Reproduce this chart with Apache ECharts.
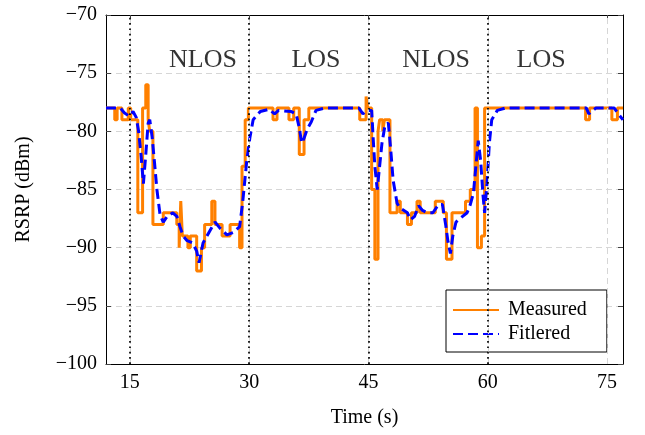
<!DOCTYPE html>
<html><head><meta charset="utf-8">
<script src="https://cdn.jsdelivr.net/npm/echarts@6/dist/echarts.min.js"></script>
<style>html,body{margin:0;padding:0;background:#fff}#c{width:645px;height:435px}</style>
</head><body><div id="c"></div>
<script>
const xTicks = [15, 30, 45, 60, 75];
const boundaries = [15, 30, 45, 60];
const regionNames = ['NLOS', 'LOS', 'NLOS', 'LOS'];
const regionLabelT = [24.2, 38.4, 53.5, 66.7];
const regionLabelV = -73.9;

const measuredT = [12.0,13.1,13.4,14.0,14.8,15.1,16.0,16.6,17.0,17.3,17.5,17.9,19.2,20.9,21.2,21.4,21.6,22.3,22.6,23.4,24.0,24.4,25.3,25.7,26.6,27.6,28.8,29.1,29.5,29.9,33.0,33.5,35.0,35.6,36.3,36.9,37.5,43.9,44.7,44.9,45.4,45.8,46.2,46.4,46.8,47.0,47.7,48.6,49.0,49.9,50.4,51.1,51.5,53.4,54.4,54.8,55.5,57.2,57.8,58.4,58.7,59.2,59.6,72.3,72.8,75.6,76.3,77.0];
const measuredV = [-78,-79,-78,-79,-78,-79,-87,-78,-76,-79,-80,-88,-87,-88,-90,-86,-89,-90,-89,-92,-90,-88,-86,-88,-89,-88,-90,-83,-79,-78,-79,-78,-79,-78,-82,-79,-78,-79,-77,-78,-85,-91,-80,-79,-80,-79,-87,-86,-87,-88,-87,-86,-87,-86,-87,-91,-87,-86,-85,-78,-90,-89,-78,-79,-78,-79,-78,-78];

const filteredT = [12,13.8,14.3,14.9,15.4,15.8,16.1,16.4,16.7,17.0,17.3,17.5,17.8,18.1,18.4,18.8,19.2,19.7,20.4,20.9,21.3,21.7,22.2,22.9,23.4,23.7,24.2,25.1,25.7,26.3,27.2,28.0,28.8,29.2,29.7,30.1,30.5,31.4,32.5,33.2,33.7,35.3,35.9,36.3,36.6,36.9,37.3,37.8,38.4,39.5,43.8,44.3,44.8,45.4,45.6,45.8,46.1,46.4,46.7,47.1,47.5,47.8,48.1,48.6,49.0,49.9,50.3,50.8,51.3,51.8,52.4,53.1,53.8,54.3,54.7,55.0,55.3,55.6,56.0,56.5,57.4,57.8,58.2,58.5,58.8,59.1,59.4,59.6,59.9,60.2,60.5,61.2,62.2,72.4,72.7,73.2,73.6,75.9,76.4,77];
const filteredV = [-78,-78,-78.4,-78.7,-78.3,-78.8,-80,-82,-84.5,-82,-79.3,-79,-80.5,-82.7,-85,-87.2,-87.8,-87.3,-87,-87.3,-88.2,-89,-89.4,-89.6,-90.3,-91.3,-89.6,-88.5,-87.8,-88.3,-88.9,-88.7,-88.2,-86,-82.5,-80.5,-79,-78.3,-78.1,-78.5,-78.2,-78.3,-78.5,-79.7,-81,-80.6,-79.8,-79.2,-78.2,-78,-78,-78.5,-78.2,-78.2,-80.7,-83,-85,-83,-81,-79.4,-79.3,-81.6,-84.2,-86.2,-86.6,-87,-87.6,-87.3,-86.4,-86.8,-87,-87,-86.3,-86.3,-88,-89.5,-90.5,-89,-87.8,-87.5,-87,-86.3,-85.3,-83,-80.8,-82.5,-85.5,-87,-84.5,-81,-79,-78.2,-78,-78,-78.5,-78.2,-78,-78,-78.5,-79];

const FONT = "'Liberation Serif', 'DejaVu Serif', serif";
const X_MIN = 12, X_MAX = 77, Y_MIN = -100, Y_MAX = -70;
const minus = v => String(v).replace('-', '\u2212');

const chart = echarts.init(document.getElementById('c'), null, {renderer: 'canvas'});
const gridLine = {color: '#d6d6d6', width: 1, type: [6, 4]};

chart.setOption({
  animation: false,
  backgroundColor: '#fff',
  grid: {left: 106, right: 22, top: 15, bottom: 71, containLabel: false},
  legend: {
    orient: 'vertical',
    left: 446, top: 290,
    padding: [10, 20, 8, 6],
    itemGap: 4,
    itemWidth: 46, itemHeight: 20,
    backgroundColor: '#fff',
    borderColor: '#000', borderWidth: 1, borderRadius: 0,
    itemStyle: {opacity: 0},
    textStyle: {fontFamily: FONT, fontSize: 20, color: '#000', lineHeight: 20, padding: [0, 0, 0, 4]},
    data: ['Measured', 'Fitlered']
  },
  xAxis: [{
    type: 'value', min: X_MIN, max: X_MAX, position: 'bottom',
    name: 'Time (s)', nameLocation: 'middle', nameGap: 44,
    nameTextStyle: {fontFamily: FONT, fontSize: 20, color: '#000'},
    axisLine: {show: true, onZero: false, lineStyle: {color: '#000', width: 1}},
    axisTick: {show: true, inside: true, length: 5, customValues: xTicks, lineStyle: {color: '#444'}},
    axisLabel: {customValues: xTicks, fontFamily: FONT, fontSize: 20, color: '#000', margin: 9},
    splitLine: {show: false}
  }, {
    type: 'value', min: X_MIN, max: X_MAX, position: 'top',
    axisLine: {show: true, onZero: false, lineStyle: {color: '#000', width: 1}},
    axisTick: {show: true, inside: true, length: 5, customValues: xTicks, lineStyle: {color: '#444'}},
    axisLabel: {show: false},
    splitLine: {show: false}
  }],
  yAxis: [{
    type: 'value', min: Y_MIN, max: Y_MAX, interval: 5, position: 'left',
    name: 'RSRP (dBm)', nameLocation: 'middle', nameGap: 72, nameRotate: 90,
    nameTextStyle: {fontFamily: FONT, fontSize: 20, color: '#000'},
    axisLine: {show: true, onZero: false, lineStyle: {color: '#000', width: 1}},
    axisTick: {show: true, inside: true, length: 5, lineStyle: {color: '#444'}},
    axisLabel: {fontFamily: FONT, fontSize: 20, color: '#000', margin: 9, formatter: minus},
    splitLine: {show: true, lineStyle: gridLine}
  }, {
    type: 'value', min: Y_MIN, max: Y_MAX, interval: 5, position: 'right',
    axisLine: {show: true, onZero: false, lineStyle: {color: '#000', width: 1}},
    axisTick: {show: true, inside: true, length: 5, lineStyle: {color: '#444'}},
    axisLabel: {show: false},
    splitLine: {show: false}
  }],
  series: [{
    type: 'line', name: '_grid', data: [], z: 1, silent: true,
    markLine: {
      silent: true, symbol: ['none', 'none'], label: {show: false},
      lineStyle: gridLine,
      data: xTicks.map(t => ({xAxis: t}))
    }
  }, {
    type: 'line', name: 'Measured', step: 'end',
    data: measuredT.map((t, i) => [t, measuredV[i]]),
    showSymbol: false, symbol: 'none', z: 3,
    lineStyle: {color: '#ff8000', width: 3},
    itemStyle: {color: '#ff8000'}
  }, {
    type: 'line', name: 'Fitlered',
    data: filteredT.map((t, i) => [t, filteredV[i]]),
    showSymbol: false, symbol: 'none', z: 4,
    lineStyle: {color: '#0000ff', width: 3, type: [10, 5]},
    itemStyle: {color: '#0000ff'}
  }, {
    type: 'line', name: '_bounds', data: [], z: 6, silent: true,
    markLine: {
      silent: true, symbol: ['none', 'none'], label: {show: false},
      lineStyle: {color: '#000', width: 1.7, type: [1.7, 3.6]},
      data: boundaries.map(t => ({xAxis: t}))
    }
  }, {
    type: 'scatter', name: '_regions', z: 7, silent: true,
    symbolSize: 0,
    data: regionNames.map((n, i) => ({name: n, value: [regionLabelT[i], regionLabelV]})),
    label: {show: true, position: 'inside', formatter: p => p.name,
      fontFamily: FONT, fontSize: 26, color: '#000'}
  }]
});
</script></body></html>
